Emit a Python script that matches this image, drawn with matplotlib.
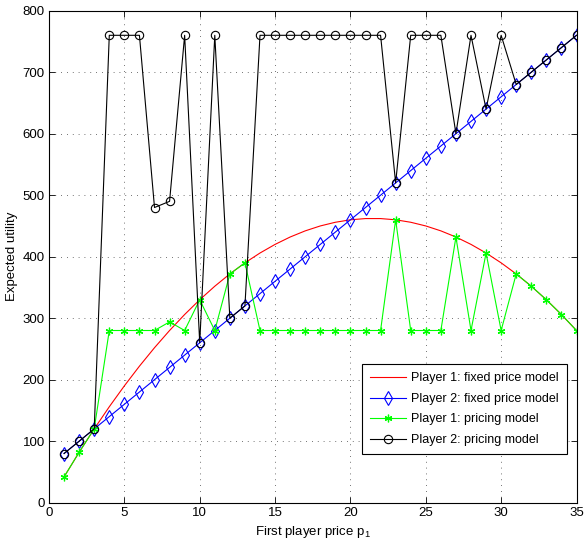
import matplotlib
matplotlib.use("Agg")
import matplotlib.pyplot as plt

plt.rcParams['font.family'] = ['Liberation Sans', 'DejaVu Sans']
plt.rcParams['mathtext.fontset'] = 'custom'
plt.rcParams['mathtext.rm'] = 'Liberation Sans'
plt.rcParams['mathtext.default'] = 'regular'
fs = 9.5
lfs = 9

prices = list(range(1, 36))

p1_fixed = [42, 82, 120, 156, 190, 222, 252, 280, 306, 330, 352, 372, 390, 406, 420,
            432, 442, 450, 456, 460, 462, 462, 460, 456, 450, 442, 432, 420, 406, 390,
            372, 352, 330, 306, 280]

p2_fixed = [80, 100, 120, 140, 160, 180, 200, 220, 240, 260, 280, 300, 320, 340, 360,
            380, 400, 420, 440, 460, 480, 500, 520, 540, 560, 580, 600, 620, 640, 660,
            680, 700, 720, 740, 760]

p1_pricing = [42, 82, 120, 280, 280, 280, 280, 294, 280, 330, 280, 372, 390, 280, 280,
              280, 280, 280, 280, 280, 280, 280, 460, 280, 280, 280, 432, 280, 406, 280,
              372, 352, 330, 306, 280]

p2_pricing = [80, 100, 120, 760, 760, 760, 480, 490, 760, 260, 760, 300, 320, 760, 760,
              760, 760, 760, 760, 760, 760, 760, 520, 760, 760, 760, 600, 760, 640, 760,
              680, 700, 720, 740, 760]

labels = ["Player 1: fixed price model", "Player 2: fixed price model",
          "Player 1: pricing model", "Player 2: pricing model"]

W, H = 584, 550
left, right, top, bottom = 49.0, 576.5, 10.7, 502.7
fig = plt.figure(figsize=(W / 100, H / 100), dpi=100)
ax = fig.add_axes([left / W, 1 - bottom / H, (right - left) / W, (bottom - top) / H])

ax.plot(prices, p1_fixed, color='#ff0000', lw=0.8, label=labels[0])
ax.plot(prices, p2_fixed, color='#0000ff', lw=0.8, marker='d', markersize=7.5,
        markerfacecolor='none', markeredgewidth=0.8, label=labels[1])
ax.plot(prices, p1_pricing, color='#00ff00', lw=0.8, marker=(6, 2, 0), markersize=5.5,
        markeredgewidth=0.9, label=labels[2])
ax.plot(prices, p2_pricing, color='black', lw=0.8, marker='o', markersize=6,
        markerfacecolor='none', markeredgewidth=0.8, label=labels[3])

ax.set_xlim(0, 35)
ax.set_ylim(0, 800)
ax.set_xticks(range(0, 36, 5))
ax.set_yticks(range(0, 801, 100))
ax.tick_params(direction='in', top=True, right=True, labelsize=fs, length=4, width=0.6,
               pad=3)
ax.grid(True, linestyle=(0, (1, 6)), color='#444444', linewidth=0.6)
for s in ax.spines.values():
    s.set_linewidth(0.8)

ax.set_xlabel('First player price p$_1$', fontsize=fs, labelpad=4)
ax.set_ylabel('Expected utility', fontsize=fs, labelpad=3)

aw, ah = right - left, bottom - top
leg = ax.legend(loc='lower right', bbox_to_anchor=(1 - 9.5 / aw, 48.7 / ah),
                fontsize=lfs, fancybox=False, framealpha=1, edgecolor='black',
                borderpad=0.65, handlelength=2.9, labelspacing=0.68, handletextpad=0.4,
                borderaxespad=0, numpoints=1)
leg.get_frame().set_linewidth(0.8)

fig.savefig('out.png', dpi=100)
